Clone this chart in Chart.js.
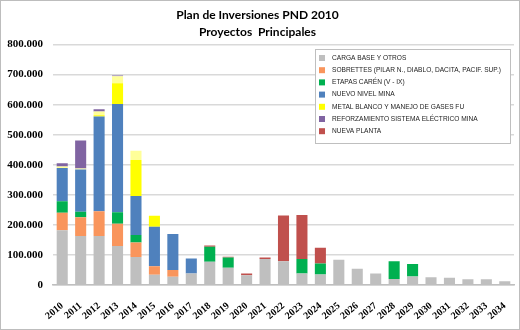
<!DOCTYPE html>
<html>
<head>
<meta charset="utf-8">
<script src="https://cdn.jsdelivr.net/npm/chart.js@4/dist/chart.umd.min.js"></script>
<style>
  html, body { margin: 0; padding: 0; background: #fff; }
  #wrap { position: relative; width: 518px; height: 328px; border: 1px solid #bdbdbd; }
</style>
</head>
<body>
<div id="wrap"><canvas id="chart" width="518" height="328"></canvas></div>
<script>
// years on x axis
const years = ["2010","2011","2012","2013","2014","2015","2016","2017","2018","2019","2020","2021",
    "2022","2023","2024","2025","2026","2027","2028","2029","2030","2031","2032","2033","2034"];

// values in US$ thousands
const cargaBase    = [182000,163000,163000,130000, 93000, 34000, 27000, 38000, 77000, 57000, 32000, 86000,
                       79000, 38000, 35000, 84000, 54000, 38000, 20000, 28000, 26000, 24000, 19000, 19000, 12000];
const sobretTes    = [ 58000, 62000, 82000, 74000, 48000, 28000, 23000,     0,     0,     0,     0,     0,
                           0,     0,     0,     0,     0,     0,     0,     0,     0,     0,     0,     0,     0];
const etapasCaren  = [ 39000, 19000,     0, 38000, 25000,     0,     0,     0, 50000, 34000,     0,     0,
                           0, 48000, 36000,     0,     0,     0, 59000, 42000,     0,     0,     0,     0,     0];
const nuevoNivel   = [110000,140000,316000,360000,130000,132000,120000, 50000,     0,     0,     0,     0,
                           0,     0,     0,     0,     0,     0,     0,     0,     0,     0,     0,     0,     0];
const metalBlanco  = [     0,     0,  4000, 69000,120000, 36000,     0,     0,     0,     0,     0,     0,
                           0,     0,     0,     0,     0,     0,     0,     0,     0,     0,     0,     0,     0];
const metalBlanco2 = [  5000,  4000, 12000, 24000, 31000,     0,     0,     0,     0,     0,     0,     0,
                           0,     0,     0,     0,     0,     0,     0,     0,     0,     0,     0,     0,     0];
const reforzamiento= [ 11000, 93000,  8000,  2000,     0,     0,     0,     0,     0,     0,     0,     0,
                           0,     0,     0,     0,     0,     0,     0,     0,     0,     0,     0,     0,     0];
const nuevaPlanta  = [     0,     0,     0,     0,     0,     0,     0,     0,  4000,  3000,  6000,  5000,
                      152000,147000, 53000,     0,     0,     0,     0,     0,     0,     0,     0,     0,     0];

const yTicks = [0, 100000, 200000, 300000, 400000, 500000, 600000, 700000, 800000];

function fmt(v) {
    return String(v).replace(/\B(?=(\d{3})+(?!\d))/g, ".");
}

function ds(label, data, color) {
    return { label: label, data: data, backgroundColor: color, borderWidth: 0,
             barPercentage: 0.6, categoryPercentage: 1 };
}

// legend box drawn inside the plot area, top right
const boxLegend = {
    id: "boxLegend",
    afterDraw(chart) {
        const ctx = chart.ctx;
        const x = 314, y = 48, w = 195, h = 94;
        ctx.save();
        ctx.fillStyle = "#fff";
        ctx.fillRect(x, y, w, h);
        ctx.strokeStyle = "#bfbfbf";
        ctx.lineWidth = 1;
        ctx.strokeRect(x + 0.5, y + 0.5, w, h);
        ctx.font = "6.6px 'Liberation Sans'";
        ctx.textBaseline = "middle";
        let row = 0;
        chart.data.datasets.forEach(d => {
            if (!d.label) return;
            const cy = y + 9 + row * 12.2;
            ctx.fillStyle = d.backgroundColor;
            ctx.fillRect(x + 4, cy - 3, 6, 6);
            ctx.fillStyle = "#222";
            ctx.fillText(d.label, x + 17, cy);
            row++;
        });
        ctx.restore();
    }
};

new Chart(document.getElementById("chart"), {
    type: "bar",
    data: {
        labels: years,
        datasets: [
            ds("CARGA BASE Y OTROS", cargaBase, "#bfbfbf"),
            ds("SOBRETTES (PILAR N., DIABLO, DACITA, PACIF. SUP.)", sobretTes, "#f9955c"),
            ds("ETAPAS CARÉN (V - IX)", etapasCaren, "#00b050"),
            ds("NUEVO NIVEL MINA", nuevoNivel, "#4f81bd"),
            ds("METAL BLANCO Y MANEJO DE GASES FU", metalBlanco, "#ffff00"),
            ds("", metalBlanco2, "#ffff99"),
            ds("REFORZAMIENTO SISTEMA ELÉCTRICO MINA", reforzamiento, "#8064a2"),
            ds("NUEVA PLANTA", nuevaPlanta, "#c0504d")
        ]
    },
    options: {
        responsive: false,
        animation: false,
        layout: { padding: { left: 0, right: 5, top: 4, bottom: 0 } },
        plugins: {
            legend: { display: false },
            tooltip: { enabled: false },
            title: {
                display: true,
                text: ["Plan de Inversiones PND 2010", "Proyectos  Principales"],
                color: "#000",
                font: { family: "Lato, 'Liberation Sans'", size: 12, weight: "bold", lineHeight: 1.4 },
                padding: { top: 2, bottom: 4 }
            }
        },
        scales: {
            x: {
                stacked: true,
                grid: { display: false },
                border: { color: "#bfbfbf", width: 1.5 },
                afterFit(axis) { axis.paddingLeft = 0; axis.paddingRight = 0; },
                ticks: {
                    color: "#000",
                    minRotation: 40, maxRotation: 40,
                    autoSkip: false,
                    padding: 7,
                    font: { family: "'Liberation Serif'", size: 10, weight: "bold" }
                }
            },
            y: {
                stacked: true,
                min: 0, max: 800000,
                afterBuildTicks(axis) { axis.ticks = yTicks.map(v => ({ value: v })); },
                afterFit(axis) { axis.width = 52; },
                grid: { color: "#d9d9d9", lineWidth: 1.5, drawTicks: false },
                border: { display: false },
                ticks: {
                    color: "#000",
                    padding: 10,
                    font: { family: "'Liberation Serif'", size: 11, weight: "bold" },
                    callback: v => fmt(v)
                }
            }
        }
    },
    plugins: [boxLegend]
});
</script>
</body>
</html>
